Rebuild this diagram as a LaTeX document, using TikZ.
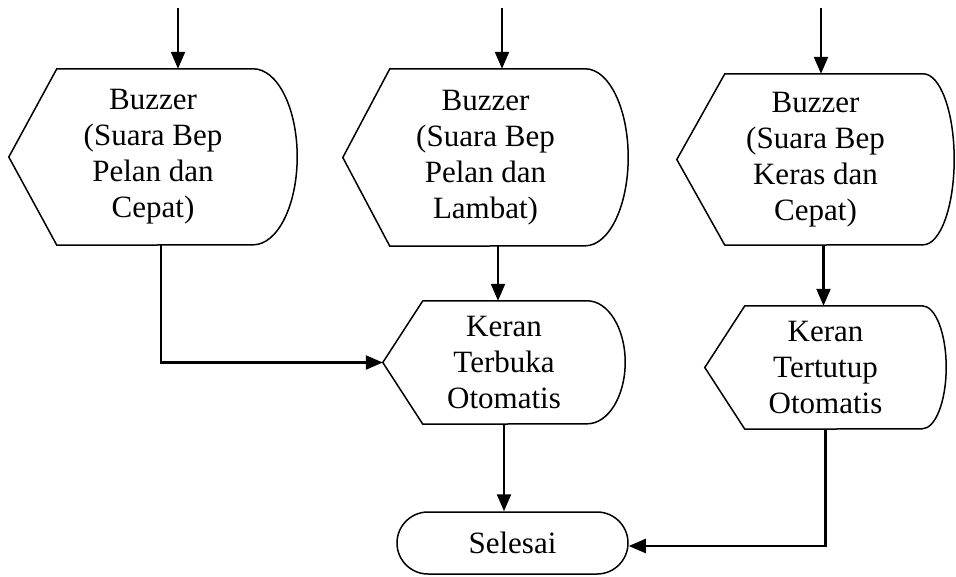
\documentclass[tikz,border=0pt]{standalone}
\usepackage{fontspec}
\setmainfont{Liberation Serif}
\usetikzlibrary{arrows.meta}

% outline of a flowchart "display" box: pointed left end, curved right end
% #1 node name, #2 inset of the point, #3 x radius of the curve, #4 half height
\newcommand\dispoutline[4]{%
  \draw[shapeline] (#1.west) -- ([xshift=#2pt]#1.north west)
    -- ([xshift=-#3pt]#1.north east)
    arc[start angle=90, end angle=-90, x radius=#3pt, y radius=#4pt]
    -- ([xshift=#2pt]#1.south west) -- cycle;}

\tikzset{
  shapeline/.style={line width=1.5pt, line join=miter},
  flow/.style={line width=2.2pt, -{Triangle[length=17pt,width=14pt]}},
  boxtext/.style={inner sep=0pt, align=center,
    font=\fontsize{31}{36}\selectfont},
  dispbox/.style 2 args={boxtext, minimum width=#1pt, minimum height=#2pt},
  terminal/.style={boxtext, draw, shapeline, rounded corners=31pt,
    minimum width=231pt, minimum height=62pt}
}

\begin{document}
\begin{tikzpicture}[x=1pt, y=-1pt]
  \useasboundingbox (0,0) rectangle (956,576);

  % buzzer boxes
  \node[dispbox={288}{176}] (b1) at (153,157)
    {Buzzer\\(Suara Bep\\Pelan dan\\Cepat)};
  \node[dispbox={285}{177}] (b2) at (485.5,157.5)
    {Buzzer\\(Suara Bep\\Pelan dan\\Lambat)};
  \node[dispbox={277}{171}] (b3) at (815.5,159.5)
    {Buzzer\\(Suara Bep\\Keras dan\\Cepat)};
  \dispoutline{b1}{48}{44}{88}
  \dispoutline{b2}{47}{43}{88.5}
  \dispoutline{b3}{48}{31}{85.5}

  % valve boxes
  \node[dispbox={242}{123}] (b4) at (504,362.5)
    {Keran\\Terbuka\\Otomatis};
  \node[dispbox={241}{123}] (b5) at (825.5,367.5)
    {Keran\\Tertutup\\Otomatis};
  \dispoutline{b4}{40}{38}{61.5}
  \dispoutline{b5}{40}{24}{61.5}

  % end
  \node[terminal] (sel) at (512.5,543) {Selesai};

  % incoming lines
  \coordinate (in1) at (178,8);
  \coordinate (in2) at (502,8);
  \coordinate (in3) at (821,8);
  \draw[flow] (in1) -- (in1 |- b1.north);
  \draw[flow] (in2) -- (in2 |- b2.north);
  \draw[flow] (in3) -- (in3 |- b3.north);

  % connectors
  \draw[flow] ([xshift=8pt]b1.south) |- (b4.west);
  \draw[flow] ([xshift=12.5pt]b2.south) -- ([xshift=12.5pt]b2.south |- b4.north);
  \draw[flow] ([xshift=8pt]b3.south) -- ([xshift=8pt]b3.south |- b5.north);
  \draw[flow] (b4.south) -- (b4.south |- sel.north);
  \draw[flow] (b5.south) |- ([yshift=-3pt]sel.east);
\end{tikzpicture}
\end{document}
